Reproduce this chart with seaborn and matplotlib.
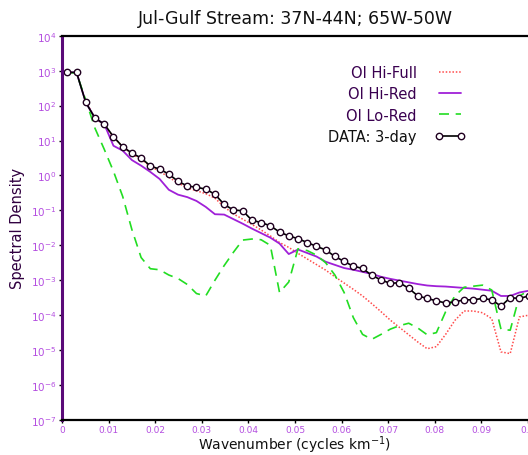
import numpy as np
import pandas as pd
import matplotlib
matplotlib.use("Agg")
import matplotlib.pyplot as plt
import seaborn as sns

# ---------------- data (log10 of spectral density) ----------------
wavenumber = [0.00114, 0.00312, 0.00510, 0.00708, 0.00906, 0.01104, 0.01302, 0.01500,
              0.01698, 0.01896, 0.02094, 0.02292, 0.02490, 0.02688, 0.02886, 0.03084,
              0.03282, 0.03480, 0.03678, 0.03876, 0.04074, 0.04272, 0.04470, 0.04668,
              0.04866, 0.05064, 0.05262, 0.05460, 0.05658, 0.05856, 0.06054, 0.06252,
              0.06450, 0.06648, 0.06846, 0.07044, 0.07242, 0.07440, 0.07638, 0.07836,
              0.08034, 0.08232, 0.08430, 0.08628, 0.08826, 0.09024, 0.09222, 0.09420,
              0.09618, 0.09816, 0.10014]

log_hi_full = [2.95, 2.95, 2.12, 1.64, 1.45, 1.10, 0.82, 0.62, 0.46, 0.26, 0.12, -0.05,
               -0.22, -0.35, -0.44, -0.52, -0.65, -0.90, -1.10, -1.25, -1.40, -1.56,
               -1.73, -1.92, -2.06, -2.23, -2.39, -2.55, -2.71, -2.90, -3.08, -3.26,
               -3.45, -3.67, -3.90, -4.14, -4.35, -4.56, -4.77, -4.96, -4.90, -4.55,
               -4.15, -3.88, -3.88, -3.93, -4.10, -5.05, -5.10, -4.05, -4.00]

log_hi_red = [2.95, 2.95, 2.09, 1.64, 1.47, 0.85, 0.71, 0.44, 0.28, 0.10, -0.10, -0.41,
              -0.55, -0.62, -0.73, -0.90, -1.11, -1.12, -1.25, -1.38, -1.52, -1.65,
              -1.78, -1.95, -2.25, -2.12, -2.22, -2.32, -2.47, -2.56, -2.65, -2.70,
              -2.76, -2.82, -2.90, -2.96, -3.01, -3.06, -3.11, -3.15, -3.17, -3.18,
              -3.20, -3.22, -3.24, -3.27, -3.30, -3.45, -3.45, -3.35, -3.30]

log_lo_red = [2.95, 2.93, 2.15, 1.35, 0.75, 0.12, -0.60, -1.55, -2.35, -2.67, -2.70, -2.85,
              -2.95, -3.12, -3.38, -3.45, -3.00, -2.58, -2.20, -1.85, -1.82, -1.84,
              -2.00, -3.35, -3.05, -2.10, -2.15, -2.28, -2.50, -2.85, -3.35, -4.07,
              -4.55, -4.69, -4.55, -4.40, -4.30, -4.23, -4.37, -4.56, -4.50, -3.90,
              -3.45, -3.20, -3.17, -3.14, -3.28, -4.40, -4.43, -3.45, -3.30]

log_data = [2.95, 2.95, 2.09, 1.64, 1.47, 1.11, 0.82, 0.64, 0.50, 0.27, 0.18, 0.04,
            -0.17, -0.30, -0.34, -0.39, -0.54, -0.83, -0.99, -1.01, -1.28, -1.35,
            -1.44, -1.62, -1.73, -1.81, -1.92, -2.03, -2.13, -2.32, -2.46, -2.60,
            -2.66, -2.86, -2.99, -3.09, -3.07, -3.23, -3.45, -3.52, -3.59, -3.65,
            -3.62, -3.56, -3.56, -3.52, -3.56, -3.74, -3.50, -3.52, -3.45]

series_names = ["OI Hi-Full", "OI Hi-Red", "OI Lo-Red", "DATA: 3-day"]
x_ticks = [0.0, 0.01, 0.02, 0.03, 0.04, 0.05, 0.06, 0.07, 0.08, 0.09, 0.1]
x_tick_labels = ["0", "0.01", "0.02", "0.03", "0.04", "0.05", "0.06", "0.07", "0.08", "0.09", "0.1"]
y_exponents = [4, 3, 2, 1, 0, -1, -2, -3, -4, -5, -6, -7]

# ---------------- plotting ----------------
sns.set_theme(style="white")
plt.rcParams["font.family"] = ["DejaVu Sans"]

fig = plt.figure(figsize=(5.28, 4.56), dpi=100)
ax = fig.add_axes([62 / 528, 35 / 456, 466 / 528, 384.3 / 456])

df = pd.DataFrame({
    "k": wavenumber,
    series_names[0]: np.power(10.0, log_hi_full),
    series_names[1]: np.power(10.0, log_hi_red),
    series_names[2]: np.power(10.0, log_lo_red),
    series_names[3]: np.power(10.0, log_data),
})

purple_tick = "#b44fe0"

sns.lineplot(data=df, x="k", y=series_names[0], ax=ax, color="#ff4a4a",
             linestyle=(0, (1, 1.2)), linewidth=1.1, label=series_names[0])
sns.lineplot(data=df, x="k", y=series_names[1], ax=ax, color="#a020d8",
             linewidth=1.3, label=series_names[1])
sns.lineplot(data=df, x="k", y=series_names[2], ax=ax, color="#22dd22",
             linestyle=(0, (6, 4)), linewidth=1.2, label=series_names[2])
sns.lineplot(data=df, x="k", y=series_names[3], ax=ax, color="black",
             linewidth=1.2, marker="o", markersize=4.6, markerfacecolor="white",
             markeredgecolor="#200020", markeredgewidth=1.0, label=series_names[3])

ax.set_yscale("log")
ax.set_xlim(0, 0.1)
ax.set_ylim(1e-7, 1e4)

ax.set_xticks(x_ticks)
ax.set_xticklabels(x_tick_labels)
ax.set_yticks([10.0 ** e for e in y_exponents])
ax.set_yticklabels([r"$10^{%d}$" % e for e in y_exponents])
ax.yaxis.set_minor_locator(matplotlib.ticker.NullLocator())
ax.tick_params(axis="both", which="major", length=2, width=1, color="black",
               labelcolor=purple_tick, direction="out", pad=2)
ax.tick_params(axis="x", labelsize=6.5, pad=1.5)
ax.tick_params(axis="y", labelsize=7.5)
ax.tick_params(left=True, bottom=True)

ax.grid(False)
for side in ["top", "bottom"]:
    ax.spines[side].set_color("black")
    ax.spines[side].set_linewidth(1.6)
ax.spines["left"].set_color("#5a0a78")
ax.spines["left"].set_linewidth(2.2)
ax.spines["right"].set_visible(False)

ax.set_xlabel(r"Wavenumber (cycles km$^{-1}$)", fontsize=10, color="#111111", labelpad=0)
ax.set_ylabel("Spectral Density", fontsize=10.5, color="#300040", labelpad=4)
ax.set_title("Jul-Gulf Stream: 37N-44N; 65W-50W", fontsize=12.5, color="#111111", pad=9)

handles, labels = ax.get_legend_handles_labels()
leg = ax.legend(handles, labels, loc="upper right", bbox_to_anchor=(0.893, 0.957),
                frameon=False, markerfirst=False, numpoints=2, handlelength=2.1,
                handletextpad=1.2, labelspacing=0.42, fontsize=10.5)
for txt in leg.get_texts():
    txt.set_color("#3a0050")
leg.get_texts()[-1].set_color("#111111")

fig.savefig("out.png", dpi=100)
